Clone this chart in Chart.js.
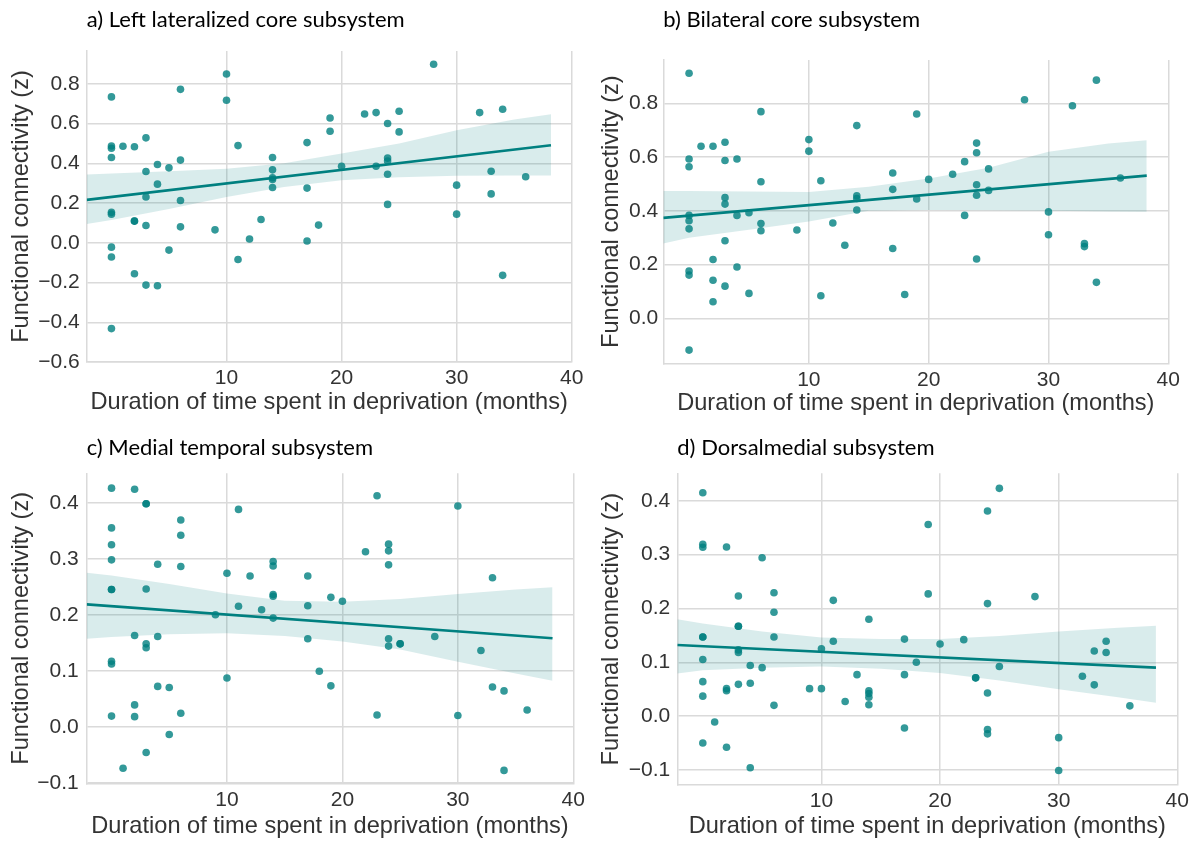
<!DOCTYPE html>
<html>
<head>
<meta charset="utf-8">
<title>Functional connectivity vs. deprivation</title>
<script src="https://cdn.jsdelivr.net/npm/chart.js@4.4.0/dist/chart.umd.min.js"></script>
<style>
  body { margin: 0; background: #fff; }
  #fig { position: relative; width: 1197px; height: 842px; }
  #fig canvas { position: absolute; }
</style>
</head>
<body>
<div id="fig">
  <canvas id="panelA" width="598" height="420" style="left:0px;top:0px"></canvas>
  <canvas id="panelB" width="607" height="420" style="left:590px;top:0px"></canvas>
  <canvas id="panelC" width="598" height="417" style="left:0px;top:425px"></canvas>
  <canvas id="panelD" width="607" height="417" style="left:590px;top:425px"></canvas>
</div>
<script>
// months spent in deprivation / functional connectivity (z), one pair of arrays per subsystem
const monthsA = [0,0,0,0,0,0,0,0,0, 1, 2,2,2,2, 3,3,3,3,3, 4,4,4, 5,5, 6,6,6,6, 9, 10,10, 11,11, 12, 13,
  14,14,14,14,14, 17,17,17, 18, 19,19, 20, 22, 23,23, 24,24,24,24,24, 25,25, 28, 30,30, 32, 33,33, 34,34, 36];
const fcA = [0.734,0.487,0.476,0.429,0.153,0.144,-0.022,-0.072,-0.432, 0.486, 0.483,0.109,0.109,-0.156,
  0.528,0.359,0.230,0.087,-0.213, 0.394,0.295,-0.216, 0.377,-0.037, 0.772,0.416,0.213,0.080, 0.065,
  0.849,0.717, 0.489,-0.084, 0.019, 0.117, 0.429,0.367,0.327,0.318,0.278, 0.504,0.275,0.009, 0.089,
  0.628,0.561, 0.385, 0.648, 0.655,0.385, 0.600,0.426,0.411,0.345,0.193, 0.662,0.558, 0.898,
  0.290,0.144, 0.655, 0.360,0.246, 0.672,-0.164, 0.332];

const monthsB = [0,0,0,0,0,0,0,0,0, 1, 2,2,2,2, 3,3,3,3,3,3, 4,4,4, 5,5, 6,6,6,6, 9, 10,10, 11,11, 12, 13,
  14,14,14,14, 17,17,17, 18, 19,19, 20, 22, 23,23, 24,24,24,24,24, 25,25, 28, 30,30, 32, 33,33, 34,34, 36];
const fcB = [0.912,0.593,0.564,0.383,0.363,0.333,0.176,0.161,-0.118, 0.640, 0.640,0.219,0.142,0.062,
  0.655,0.587,0.449,0.425,0.289,0.120, 0.593,0.383,0.191, 0.393,0.093, 0.769,0.508,0.353,0.326, 0.329,
  0.665,0.622, 0.512,0.084, 0.355, 0.272, 0.717,0.456,0.446,0.403, 0.541,0.480,0.260, 0.089,
  0.760,0.444, 0.517, 0.536, 0.583,0.383, 0.652,0.616,0.497,0.458,0.221, 0.556,0.476, 0.813,
  0.396,0.311, 0.791, 0.278,0.267, 0.886,0.134, 0.522];

const monthsC = [0,0,0,0,0,0,0,0,0, 1, 2,2,2,2, 3,3,3,3,3,3, 4,4,4, 5,5, 6,6,6,6, 9, 10,10, 11,11, 12, 13,
  14,14,14,14,14, 17,17,17, 18, 19,19, 20, 22, 23,23, 24,24,24,24,24, 25,25, 28, 30,30, 32, 33,33, 34,34, 36];
const fcC = [0.426,0.355,0.325,0.298,0.245,0.245,0.117,0.112,0.019, -0.074, 0.424,0.163,0.039,0.018,
  0.398,0.398,0.246,0.148,0.141,-0.046, 0.290,0.161,0.072, 0.070,-0.014, 0.369,0.342,0.286,0.024, 0.200,
  0.274,0.087, 0.388,0.215, 0.269, 0.209, 0.295,0.287,0.236,0.233,0.194, 0.269,0.216,0.157, 0.099,
  0.231,0.073, 0.224, 0.3125, 0.4125,0.021, 0.326,0.314,0.289,0.157,0.144, 0.148,0.148, 0.161,
  0.394,0.020, 0.136, 0.266,0.071, 0.064,-0.078, 0.030];

const monthsD = [0,0,0,0,0,0,0,0,0, 1, 2,2,2,2, 3,3,3,3,3,3, 4,4,4, 5,5, 6,6,6,6, 9, 10,10, 11,11, 12, 13,
  14,14,14,14,14, 17,17,17, 18, 19,19, 20, 22, 23,23, 24,24,24,24,24, 25,25, 28, 30,30, 32, 33,33, 34,34, 36];
const fcD = [0.415,0.319,0.3135,0.147,0.147,0.105,0.064,0.037,-0.050, -0.011, 0.314,0.051,0.047,-0.058,
  0.223,0.167,0.167,0.123,0.118,0.059, 0.094,0.061,-0.096, 0.294,0.090, 0.229,0.193,0.147,0.020, 0.051,
  0.125,0.051, 0.215,0.139, 0.027, 0.077, 0.180,0.047,0.042,0.035,0.021, 0.143,0.077,-0.022, 0.100,
  0.356,0.227, 0.134, 0.142, 0.071,0.071, 0.381,0.209,0.043,-0.025,-0.033, 0.423,0.092, 0.222,
  -0.040,-0.101, 0.074, 0.121,0.058, 0.139,0.118, 0.019];

// fitted line end points and 95% CI band edges
const fitMonths = [-2.15, 38.2];
const fitA = [0.216, 0.491];
const fitB = [0.374, 0.531];
const fitC = [0.2185, 0.158];
const fitD = [0.132, 0.090];

const bandMonths = [-2.15, 0, 5, 10, 15, 20, 25, 30, 35, 38.2];
const upperA = [0.344, 0.349, 0.360, 0.372, 0.400, 0.449, 0.500, 0.566, 0.620, 0.647];
const lowerA = [0.094, 0.114, 0.170, 0.230, 0.280, 0.315, 0.330, 0.337, 0.339, 0.339];
const upperB = [0.474, 0.474, 0.472, 0.470, 0.490, 0.520, 0.560, 0.620, 0.650, 0.663];
const lowerB = [0.279, 0.300, 0.330, 0.360, 0.400, 0.403, 0.402, 0.400, 0.398, 0.397];
const upperC = [0.275, 0.270, 0.255, 0.238, 0.225, 0.223, 0.228, 0.237, 0.245, 0.249];
const lowerC = [0.157, 0.160, 0.165, 0.167, 0.162, 0.152, 0.138, 0.116, 0.095, 0.082];
const upperD = [0.180, 0.172, 0.157, 0.146, 0.143, 0.143, 0.149, 0.157, 0.164, 0.168];
const lowerD = [0.079, 0.085, 0.090, 0.092, 0.088, 0.080, 0.066, 0.050, 0.035, 0.025];

const xTicks = [10, 20, 30, 40];
const yTicksA = [-0.6, -0.4, -0.2, 0.0, 0.2, 0.4, 0.6, 0.8];
const yTicksB = [0.0, 0.2, 0.4, 0.6, 0.8];
const yTicksC = [-0.1, 0.0, 0.1, 0.2, 0.3, 0.4];
const yTicksD = [-0.1, 0.0, 0.1, 0.2, 0.3, 0.4];

const TEAL = '#008080';
const GRID = '#dadada';
const TXT = '#333333';
const SANS = "'Liberation Sans', Arial, sans-serif";

function pairs(xs, ys) {
  return xs.map((x, i) => ({ x: x, y: ys[i] }));
}

function makePanel(id, p) {
  new Chart(document.getElementById(id), {
    type: 'scatter',
    data: {
      datasets: [
        {
          data: pairs(fitMonths, p.fit),
          showLine: true, borderColor: TEAL, borderWidth: 2.6,
          pointRadius: 0, order: 0
        },
        {
          data: pairs(p.months, p.fc),
          backgroundColor: 'rgba(0,128,128,0.8)', borderWidth: 0,
          pointRadius: 3.8, order: 1
        },
        {
          data: pairs(bandMonths, p.upper),
          showLine: true, borderWidth: 0, pointRadius: 0,
          fill: '+1', backgroundColor: 'rgba(0,128,128,0.15)', order: 2
        },
        {
          data: pairs(bandMonths, p.lower),
          showLine: true, borderWidth: 0, pointRadius: 0, order: 3
        }
      ]
    },
    options: {
      responsive: false,
      animation: false,
      devicePixelRatio: 1,
      layout: { padding: { left: 0, top: 0, right: p.padRight, bottom: 0 } },
      plugins: {
        legend: { display: false },
        tooltip: { enabled: false },
        title: {
          display: true, text: p.title, align: 'start', fullSize: false,
          color: '#000', font: { family: 'Lato', size: 22, weight: 'normal' },
          padding: p.titlePad
        }
      },
      scales: {
        x: {
          type: 'linear', min: -2.15, max: 40,
          afterBuildTicks: s => { s.ticks = xTicks.map(v => ({ value: v })); },
          afterFit: s => { s.height = p.xAxisH; },
          grid: { color: GRID, lineWidth: 1.5, drawTicks: false },
          border: { color: GRID, width: 1.5 },
          ticks: { color: TXT, padding: 4, font: { family: SANS, size: 21 },
                   callback: v => String(v) },
          title: { display: true, text: 'Duration of time spent in deprivation (months)', color: TXT,
                   font: { family: SANS, size: 23.6 }, padding: { top: 0, bottom: p.xTitlePad } }
        },
        y: {
          type: 'linear', min: p.yMin, max: p.yMax,
          afterBuildTicks: s => { s.ticks = p.yTicks.map(v => ({ value: v })); },
          afterFit: s => { s.width = p.yAxisW; },
          grid: { color: GRID, lineWidth: 1.5, drawTicks: false },
          border: { color: GRID, width: 1.5 },
          ticks: { color: TXT, padding: p.yTickPad, font: { family: SANS, size: 21 },
                   callback: v => v.toFixed(1).replace('-', '\u2212') },
          title: { display: true, text: 'Functional connectivity (z)', color: TXT,
                   font: { family: SANS, size: 23.6 }, padding: { top: 7.5, bottom: 0 } }
        }
      }
    }
  });
}

makePanel('panelA', {
  title: 'a) Left lateralized core subsystem',
  months: monthsA, fc: fcA, fit: fitA, upper: upperA, lower: lowerA,
  yMin: -0.6, yMax: 0.965, yTicks: yTicksA,
  yAxisW: 86.7, xAxisH: 58, padRight: 26.3, xTitlePad: 3.0, yTickPad: 7,
  titlePad: { top: 6.8, bottom: 17.8 }
});
makePanel('panelB', {
  title: 'b) Bilateral core subsystem',
  months: monthsB, fc: fcB, fit: fitB, upper: upperB, lower: lowerB,
  yMin: -0.167, yMax: 0.961, yTicks: yTicksB,
  yAxisW: 73.3, xAxisH: 56.7, padRight: 28.7, xTitlePad: 2.7, yTickPad: 5,
  titlePad: { top: 6.8, bottom: 26.8 }
});
makePanel('panelC', {
  title: 'c) Medial temporal subsystem',
  months: monthsC, fc: fcC, fit: fitC, upper: upperC, lower: lowerC,
  yMin: -0.101, yMax: 0.4525, yTicks: yTicksC,
  yAxisW: 86.7, xAxisH: 58.7, padRight: 24.7, xTitlePad: 1.3, yTickPad: 8,
  titlePad: { top: 10.1, bottom: 11.8 }
});
makePanel('panelD', {
  title: 'd) Dorsalmedial subsystem',
  months: monthsD, fc: fcD, fit: fitD, upper: upperD, lower: lowerD,
  yMin: -0.128, yMax: 0.451, yTicks: yTicksD,
  yAxisW: 87.3, xAxisH: 57, padRight: 19.7, xTitlePad: 1.3, yTickPad: 7,
  titlePad: { top: 10.1, bottom: 11.8 }
});
</script>
</body>
</html>
